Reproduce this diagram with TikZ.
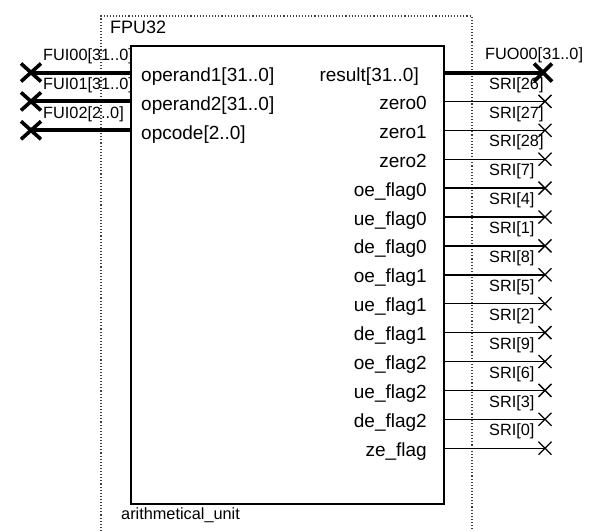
\documentclass[tikz,border=0pt]{standalone}
\usepackage{fontspec}
\setmainfont{Liberation Sans}
\begin{document}
\begin{tikzpicture}[x=1pt,y=-1pt,
  porttxt/.style={font=\fontsize{19}{19}\selectfont, inner sep=0pt},
  wiretxt/.style={font=\fontsize{16.3}{16.3}\selectfont, inner sep=0pt},
  buswire/.style={line width=4pt},
  sigwire/.style={line width=1.4pt},
  busx/.style={line width=3.6pt},
  sigx/.style={line width=1.3pt}]
\useasboundingbox (0,0) rectangle (590,531);
\fill[white] (0,0) rectangle (590,531);
% outer dotted instance frame
\draw[dotted, line width=1.1pt, black!75] (101,531) -- (101,16) -- (472,16) -- (472,531);
\node[anchor=west, inner sep=0pt, font=\fontsize{18}{18}\selectfont] (title) at (110,27) {FPU32};
% symbol body
\node[draw, line width=1.8pt, minimum width=313pt, minimum height=458pt, anchor=north west, inner sep=0pt] (body) at (130,45) {};
\node[anchor=west, inner sep=0pt, font=\fontsize{16.3}{16.3}\selectfont] (inst) at (121,515) {arithmetical\_unit};
% inputs
\foreach \k/\pname/\wname in {0/operand1[31..0]/FUI00[31..0], 1/operand2[31..0]/FUI01[31..0], 2/opcode[2..0]/FUI02[2..0]}{
  \pgfmathsetmacro{\yy}{72.5+28.9*\k}
  \coordinate (in\k) at (130,\yy);
  \coordinate (inx\k) at (31,\yy);
  \node[porttxt, anchor=base west] (inp\k) at (141,\yy+9) {\pname};
  \node[wiretxt, anchor=west] (inw\k) at (43,\yy-16.5) {\wname};
  \draw[buswire] (inx\k) -- (in\k);
  \draw[busx] ([shift={(-10,-9)}]inx\k) -- ([shift={(10,9)}]inx\k)
              ([shift={(-10,9)}]inx\k) -- ([shift={(10,-9)}]inx\k);
}
% result (bus output)
\coordinate (out0) at (443,72.5);
\coordinate (outx0) at (543,72.5);
\node[porttxt, anchor=base east] (outp0) at (419,81.5) {result[31..0]};
\node[wiretxt, anchor=west] (outw0) at (485,55) {FUO00[31..0]};
\draw[buswire] (out0) -- (outx0);
\draw[busx] ([shift={(-9,-9)}]outx0) -- ([shift={(9,9)}]outx0)
            ([shift={(-9,9)}]outx0) -- ([shift={(9,-9)}]outx0);
% single-bit outputs
\foreach \k/\pname/\wname in {1/zero0/SRI[26], 2/zero1/SRI[27], 3/zero2/SRI[28], 4/oe\_flag0/SRI[7], 5/ue\_flag0/SRI[4], 6/de\_flag0/SRI[1], 7/oe\_flag1/SRI[8], 8/ue\_flag1/SRI[5], 9/de\_flag1/SRI[2], 10/oe\_flag2/SRI[9], 11/ue\_flag2/SRI[6], 12/de\_flag2/SRI[3], 13/ze\_flag/SRI[0]}{
  \pgfmathsetmacro{\yy}{72.5+28.9*\k}
  \coordinate (out\k) at (443,\yy);
  \coordinate (outx\k) at (545,\yy);
  \node[porttxt, anchor=base east] (outp\k) at (427,\yy+8) {\pname};
  \node[wiretxt, anchor=west] (outw\k) at (489,\yy-16.5) {\wname};
  \draw[sigwire] (out\k) -- (outx\k);
  \draw[sigx] ([shift={(-6.5,-6.5)}]outx\k) -- ([shift={(6.5,6.5)}]outx\k)
              ([shift={(-6.5,6.5)}]outx\k) -- ([shift={(6.5,-6.5)}]outx\k);
}
\end{tikzpicture}
\end{document}
